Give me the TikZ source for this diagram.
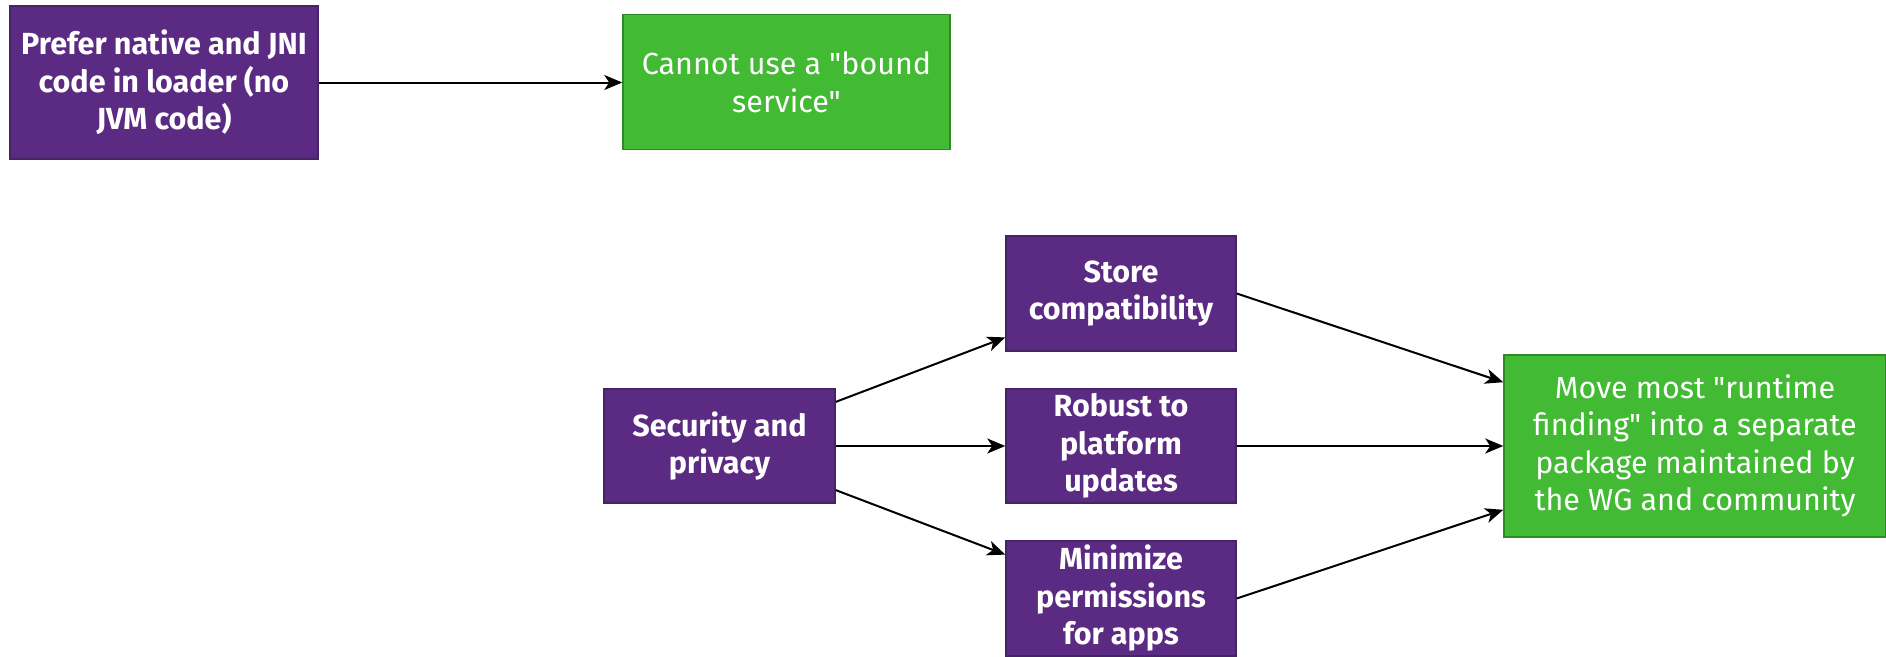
\documentclass[tikz,border=0pt]{standalone}
\usepackage{fontspec}
\setmainfont{Fira Sans}[Ligatures=TeXOff]
\usetikzlibrary{arrows.meta,calc}
\definecolor{purp}{HTML}{5B2A82}
\definecolor{purpline}{HTML}{442464}
\definecolor{grn}{HTML}{42BA33}
\definecolor{grnline}{HTML}{2E8A24}
\begin{document}
\begin{tikzpicture}[x=1pt,y=-1pt,
  pbox/.style={draw=purpline,line width=1.5pt,fill=purp,text=white,align=center,inner sep=0pt,
    font=\fontsize{30.5}{37.5}\selectfont\bfseries},
  gbox/.style={draw=grnline,line width=1.5pt,fill=grn,text=white,align=center,inner sep=0pt,
    font=\fontsize{30.5}{37.5}\selectfont},
  conn/.style={draw=black,line width=2pt,-{Stealth[length=18pt,width=15pt,inset=5pt]}}]
\useasboundingbox (0,0) rectangle (1886,656);
\node[pbox,minimum width=308pt,minimum height=153pt] (pref) at (164,82.5) {Prefer native and JNI\\code in loader (no\\JVM code)};
\node[gbox,minimum width=327pt,minimum height=135pt] (cannot) at (786.5,82) {Cannot use a "bound\\service"};
\node[pbox,minimum width=231pt,minimum height=114pt] (sec) at (719.5,446) {Security and\\privacy};
\node[pbox,minimum width=230pt,minimum height=115pt] (store) at (1121,293.5) {Store\\compatibility};
\node[pbox,minimum width=230pt,minimum height=114pt] (robust) at (1121,446) {Robust to\\platform\\updates};
\node[pbox,minimum width=230pt,minimum height=115pt] (minim) at (1121,598.5) {Minimize\\permissions\\for apps};
\node[gbox,minimum width=382pt,minimum height=182pt] (move) at (1695,446) {Move most "runtime\\finding" into a separate\\package maintained by\\the WG and community};
\draw[conn] (pref.east) -- (pref.east -| cannot.west);
\draw[conn] (sec) -- (store);
\draw[conn] (sec) -- (robust);
\draw[conn] (sec) -- (minim);
\draw[conn] (store.east) -- (move);
\draw[conn] (robust) -- (move);
\draw[conn] (minim.east) -- (move);
\end{tikzpicture}
\end{document}
